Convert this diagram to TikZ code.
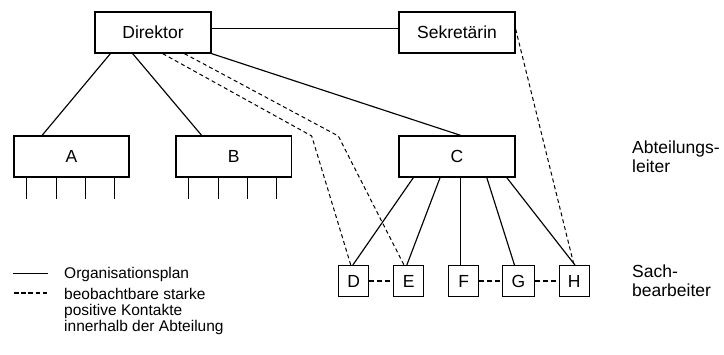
\documentclass[tikz,border=0pt]{standalone}
\usepackage{fontspec}
\setmainfont{Liberation Sans}
\usetikzlibrary{calc}
\begin{document}
\begin{tikzpicture}[x=1pt,y=-1pt,
  box/.style={draw, line width=1.25pt, minimum height=41pt, inner sep=0pt,
    font=\fontsize{17.5}{20}\selectfont},
  bigbox/.style={box, minimum width=116pt},
  small/.style={box, minimum width=30pt, minimum height=31pt},
  org/.style={line width=1.15pt},
  contact/.style={line width=1pt, dash pattern=on 4pt off 3pt},
  peer/.style={line width=2pt, dash pattern=on 5pt off 3pt},
  keydash/.style={line width=2pt, dash pattern=on 4.5pt off 2.7pt},
  lbl/.style={anchor=base west, align=left, inner sep=0pt,
    font=\fontsize{17.5}{18.5}\selectfont},
  legend/.style={anchor=base west, align=left, inner sep=0pt,
    font=\fontsize{15.5}{15.6}\selectfont}]
\useasboundingbox (0,0) rectangle (724,354);

% top level
\node[bigbox] (dir) at (153,32.5) {Direktor};
\node[bigbox] (sek) at (457,32.5) {Sekretärin};

% department heads
\node[bigbox, minimum width=115pt] (a) at (71.5,156.5) {A};
\node[bigbox, minimum width=115.5pt] (b) at (233.7,156.5) {B};
\node[bigbox] (c) at (457,156.5) {C};

% clerks of department C
\node[small] (d) at (353.8,281.2) {D};
\node[small] (e) at (408.8,281.2) {E};
\node[small] (f) at (463.8,281.2) {F};
\node[small, minimum width=31.5pt] (g) at (518.5,281.2) {G};
\node[small] (h) at (574.3,281.2) {H};

% organisation chart lines
\draw[org] ([yshift=4.2pt]dir.east) -- ([yshift=4.2pt]sek.west);
\draw[org] ($(dir.south west)+(16,0)$) -- ($(a.north west)+(28.7,0)$);
\draw[org] ($(dir.south west)+(38.3,0)$) -- ($(b.north west)+(26.3,0)$);
\draw[org] (dir.south east) -- ($(c.north)+(3.7,0)$);

\draw[org] ($(c.south west)+(15,0)$) -- ($(d.north)+(-1,0)$);
\draw[org] ($(c.south west)+(41.7,0)$) -- ($(e.north)+(-2,0)$);
\draw[org] ($(c.south)+(3.7,0)$) -- ($(f.north)+(-3.1,0)$);
\draw[org] ($(c.south west)+(88.4,0)$) -- ($(g.north)+(-4,0)$);
\draw[org] ($(c.south west)+(108.4,0)$) -- ($(h.north)+(0.7,0)$);

% subordinate stubs of A and B
\foreach \n in {a,b}
  \foreach \dx in {13.5,43,72.3,101.5}
    \draw[org] ($(\n.south west)+(\dx,0)$) -- ++(0,21);

% observed contacts
\coordinate (bendD) at (311.7,136);
\coordinate (bendE) at (338.3,136);
\draw[contact] ($(dir.south west)+(68.3,0)$) -- (bendD) -- ($(d.north)+(-3,0)$);
\draw[contact] ($(dir.south west)+(90,0)$) -- (bendE) -- ($(e.north)+(-4.8,0)$);
\draw[contact] ([yshift=3.5pt]sek.east) -- ($(h.north)+(-0.3,0)$);

\draw[peer] (d.east) -- (e.west);
\draw[peer] (f.east) -- (g.west);
\draw[peer] (g.east) -- (h.west);

% level labels (anchored on the baseline of their last line)
\node[lbl] (lvl1) at (632,172) {Abteilungs-\\leiter};
\node[lbl] (lvl2) at (632,296) {Sach-\\bearbeiter};

% legend
\coordinate (k1a) at (13.3,273.3);
\coordinate (k1b) at (47.7,273.3);
\coordinate (k2a) at (14,293.3);
\coordinate (k2b) at (48,293.3);
\draw[org] (k1a) -- (k1b);
\draw[keydash] (k2a) -- (k2b);
\node[legend] (key1) at (64,278.5) {Organisationsplan};
\node[legend] (key2) at (64,331) {beobachtbare starke\\positive Kontakte\\innerhalb der Abteilung};
\end{tikzpicture}
\end{document}
